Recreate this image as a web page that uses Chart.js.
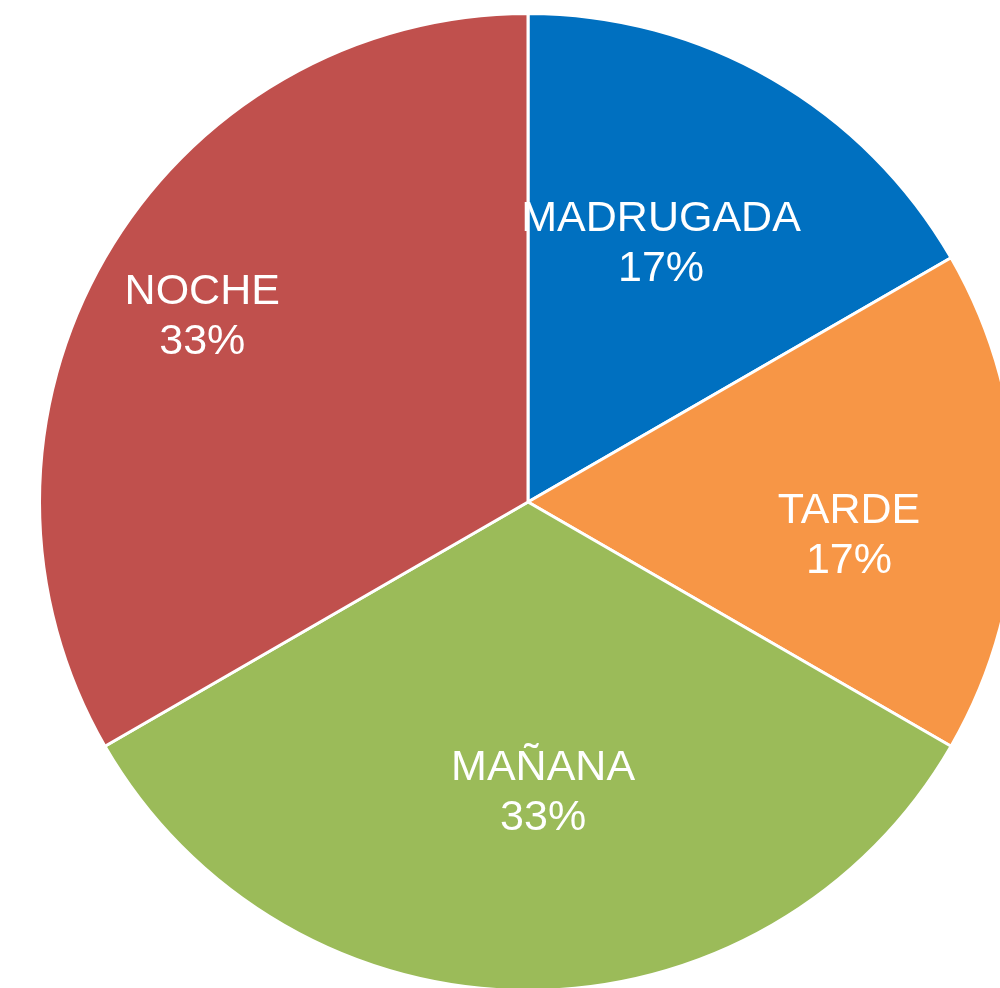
<!DOCTYPE html>
<html>
<head>
<meta charset="utf-8">
<script src="https://cdn.jsdelivr.net/npm/chart.js@4.4.1/dist/chart.umd.min.js"></script>
<style>
    html, body { margin: 0; padding: 0; background: #fff; overflow: hidden; }
    #wrap { position: absolute; left: 0; top: 0; width: 1056px; height: 1004px; }
</style>
</head>
<body>
<div id="wrap"><canvas id="pie-chart" width="1056" height="1004"></canvas></div>
<script>
    "use strict";

    // Datos
    var labels = ["MADRUGADA", "TARDE", "MAÑANA", "NOCHE"];
    var values = [1, 1, 2, 2];
    var percentLabels = ["17%", "17%", "33%", "33%"];
    var colors = ["#0070C0", "#F79646", "#9BBB59", "#C0504D"];

    // label placement (fraction of radius, angle nudge in degrees)
    var labelRadius = [0.60, 0.66, 0.59, 0.77];
    var labelNudge = [-3, 5.5, -3, 0];

    var sliceLabels = {
        id: "sliceLabels",
        afterDatasetsDraw: function (chart) {
            var ctx = chart.ctx;
            var meta = chart.getDatasetMeta(0);
            ctx.save();
            ctx.fillStyle = "#ffffff";
            ctx.font = "43px 'Liberation Sans', Arial, sans-serif";
            ctx.textAlign = "center";
            ctx.textBaseline = "middle";
            meta.data.forEach(function (arc, i) {
                var mid = (arc.startAngle + arc.endAngle) / 2 + labelNudge[i] * Math.PI / 180;
                var r = arc.outerRadius * labelRadius[i];
                var x = arc.x + Math.cos(mid) * r;
                var y = arc.y + Math.sin(mid) * r + 3;
                ctx.fillText(labels[i], x, y - 25);
                ctx.fillText(percentLabels[i], x, y + 25);
            });
            ctx.restore();
        }
    };

    var ctx = document.getElementById("pie-chart").getContext("2d");
    var myChart = new Chart(ctx, {
        type: "pie",
        data: {
            labels: labels,
            datasets: [{
                data: values,
                backgroundColor: colors,
                borderColor: "#ffffff",
                borderWidth: 3
            }]
        },
        options: {
            responsive: false,
            animation: false,
            layout: { padding: 12 },
            plugins: {
                legend: { display: false },
                tooltip: { enabled: false }
            }
        },
        plugins: [sliceLabels]
    });
</script>
</body>
</html>
